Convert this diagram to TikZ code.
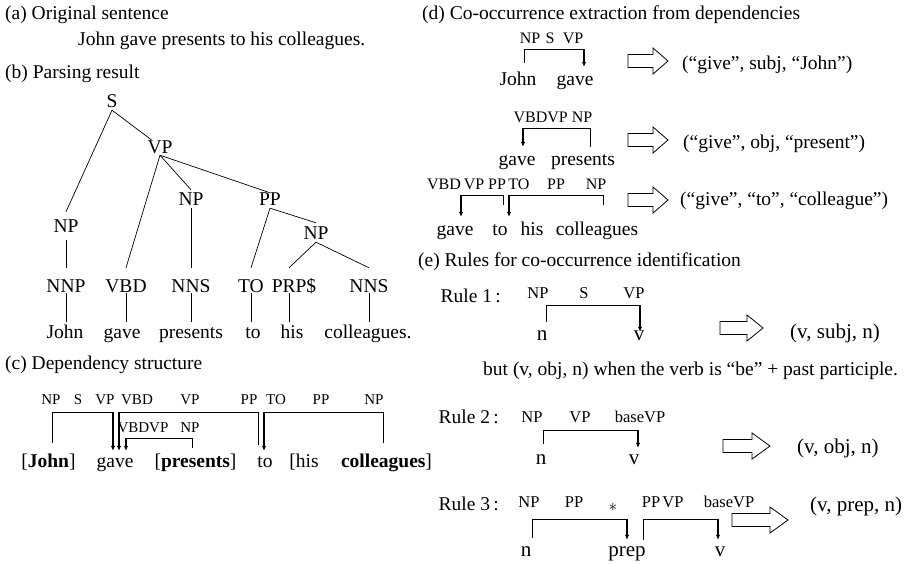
\documentclass[tikz,border=0pt]{standalone}
\usepackage{fontspec}
\setmainfont{Liberation Serif}
\usetikzlibrary{arrows.meta,calc}
\newcommand\fntmain{\fontsize{19.5}{23}\selectfont}
\newcommand\fntlab{\fontsize{15}{18}\selectfont}
\newcommand\fntlabd{\fontsize{16}{19}\selectfont}
\newcommand\fntlabe{\fontsize{16.5}{19}\selectfont}
\newcommand\fntbig{\fontsize{21}{25}\selectfont}
% #1 tail node, #2 tail x, #3 gap above tail node, #4 bracket y, #5 head node, #6 head x
\newcommand\depbr[6]{%
  \draw[dep, shorten <=#3pt] (#1.north -| #2,0) |- (#6,#4);
  \draw[deparr] (#6,#4) -- (#5.north -| #6,0);}
\tikzset{
  pics/harrow/.style 2 args={code={
    \draw[line width=0.8pt] (0,-6.5) -- (#1,-6.5) -- (#1,-13) -- (#1+#2,0)
      -- (#1,13) -- (#1,6.5) -- (0,6.5) -- cycle;}},
  tx/.style={font=\fntmain, anchor=base west, inner sep=0pt},
  tn/.style={font=\fntmain, anchor=base, inner sep=0pt},
  lc/.style={font=\fntlab, anchor=base, inner sep=0pt},
  ld/.style={font=\fntlabd, anchor=base, inner sep=0pt},
  le/.style={font=\fntlabe, anchor=base, inner sep=0pt},
  wb/.style={font=\fntbig, anchor=base, inner sep=0pt},
  rulelab/.style={font=\fntmain, anchor=base east, inner sep=0pt},
  treeline/.style={line width=0.7pt},
  dep/.style={line width=0.8pt},
  deparr/.style={line width=1.4pt, -{Latex[length=5pt,width=4.5pt]}},
}
\begin{document}
\begin{tikzpicture}[x=1pt,y=-1pt]
\fill[white] (0,0) rectangle (916,563);
\useasboundingbox (0,0) rectangle (916,563);

% ---------- (a) ----------
\node[tx] (ta) at (5,19) {(a) Original sentence};
\node[tx] (sent) at (78,45) {John gave presents to his colleagues.};

% ---------- (b) ----------
\node[tx] (tb) at (5,78) {(b) Parsing result};
\node[tn, text height=10pt, text depth=3pt] (S) at (112,107) {S};
\node[tn, text height=13pt, text depth=2pt] (VP) at (160,153) {VP};
\node[tn, text height=15pt, text depth=3pt] (NPo) at (191,205) {NP};
\node[tn, text height=12pt, text depth=3pt] (PP) at (270,205) {PP};
\node[tn, text height=20pt, text depth=8pt] (NPs) at (66,232) {NP};
\node[tn, text height=16pt, text depth=3pt] (NPp) at (316,239) {NP};

\node[tn, text height=24pt, text depth=1pt] (pNNP) at (66,292) {NNP};
\node[tn, text height=24pt, text depth=1pt] (pVBD) at (126,292) {VBD};
\node[tn, text height=24pt, text depth=1pt] (pNNSa) at (191,292) {NNS};
\node[tn, text height=24pt, text depth=1pt] (pTO) at (251,292) {TO};
\node[tn, text height=24pt, text depth=1pt] (pPRP) at (294,292) {PRP\$};
\node[tn, text height=24pt, text depth=1pt] (pNNSb) at (369,292) {NNS};

\node[tn, text height=16pt, text depth=0pt] (wJohn) at (65,338) {John};
\node[tn, text height=16pt, text depth=0pt] (wGave) at (122,338) {gave};
\node[tn, text height=16pt, text depth=0pt] (wPres) at (191,338) {presents};
\node[tn, text height=16pt, text depth=0pt] (wTo) at (253,338) {to};
\node[tn, text height=16pt, text depth=0pt] (wHis) at (292,338) {his};
\node[tn, text height=16pt, text depth=0pt] (wColl) at (368,338) {colleagues.};

\draw[treeline] (S.south) -- (NPs.north);
\draw[treeline] (S.south) -- ([xshift=4pt]VP.north west);
\draw[treeline] (VP.south) -- (pVBD.north);
\draw[treeline] (VP.south) -- (NPo.north);
\draw[treeline] (VP.south) -- (PP.north);
\draw[treeline] (NPo.south) -- (pNNSa.north);
\draw[treeline] (PP.south) -- (pTO.north);
\draw[treeline] (PP.south) -- (NPp.north);
\coordinate (prpT) at ([xshift=-5pt]pPRP.north);
\coordinate (prpB) at ([xshift=-5pt]pPRP.south);
\draw[treeline] (NPp.south) -- (prpT);
\draw[treeline] (NPp.south) -- (pNNSb.north);
\draw[treeline] (NPs.south) -- (pNNP.north);
\draw[treeline] (pNNP.south) -- (pNNP.south |- wJohn.north);
\draw[treeline] (pVBD.south) -- (pVBD.south |- wGave.north);
\draw[treeline] (pNNSa.south) -- (pNNSa.south |- wPres.north);
\draw[treeline] (pTO.south) -- (pTO.south |- wTo.north);
\draw[treeline] (prpB) -- (prpB |- wHis.north);
\draw[treeline] (pNNSb.south) -- (pNNSb.south |- wColl.north);

% ---------- (c) ----------
\node[tx] (tc) at (5,369) {(c) Dependency structure};
\node[lc] at (51,404) {NP};
\node[lc] at (78,404) {S};
\node[lc] at (105,404) {VP};
\node[lc] at (137,404) {VBD};
\node[lc] at (190,404) {VP};
\node[lc] at (249,404) {PP};
\node[lc] at (276,404) {TO};
\node[lc] at (321,404) {PP};
\node[lc] at (374,404) {NP};
\node[lc] at (143,432) {VBDVP};
\node[lc] at (190,432) {NP};

\node[tn, text height=16pt] (cJohn) at (48.5,467) {[\textbf{John}]};
\node[tn, text height=16pt] (cGave) at (115,467) {gave};
\node[tn, text height=16pt] (cPres) at (195.5,467) {[\textbf{presents}]};
\node[tn, text height=16pt] (cTo) at (265,467) {to};
\node[tn, text height=16pt] (cHis) at (304,467) {[his};
\node[tn, text height=16pt] (cColl) at (386.5,467) {\textbf{colleagues}]};

\depbr{cJohn}{52}{8}{412}{cGave}{113}
\depbr{cTo}{258}{6}{412}{cGave}{119}
\depbr{cColl}{383}{8}{412}{cTo}{264}
\depbr{cPres}{192}{3}{438}{cGave}{126}

% ---------- (d) ----------
\node[tx] (td) at (422,19) {(d) Co-occurrence extraction from dependencies};
% row 1
\node[ld] at (530,43) {NP};
\node[ld] at (550,43) {S};
\node[ld] at (573,43) {VP};
\node[tn, text height=18pt] (d1John) at (518,85) {John};
\node[tn, text height=18pt] (d1Gave) at (575,85) {gave};
\depbr{d1John}{524}{4}{49}{d1Gave}{584}
\pic at (628,61) {harrow={25}{15}};
\node[tx] (d1r) at (682,69) {(“give”, subj, “John”)};
% row 2
\node[ld] at (553,122) {VBDVP NP};
\node[tn, text height=18pt] (d2Gave) at (517,165) {gave};
\node[tn, text height=18pt] (d2Pres) at (583,165) {presents};
\depbr{d2Pres}{590}{0}{128}{d2Gave}{523}
\pic at (628,140) {harrow={25}{15}};
\node[tx] (d2r) at (683,148) {(“give”, obj, “present”)};
% row 3
\node[ld] at (444,189) {VBD};
\node[ld] at (474,189) {VP};
\node[ld] at (497,189) {PP};
\node[ld] at (519,189) {TO};
\node[ld] at (556,189) {PP};
\node[ld] at (596,189) {NP};
\node[tn, text height=18pt] (d3Gave) at (455,235) {gave};
\node[tn, text height=18pt] (d3To) at (500,235) {to};
\node[tn, text height=18pt] (d3His) at (532,235) {his};
\node[tn, text height=18pt] (d3Coll) at (597,235) {colleagues};
\depbr{d3To}{503}{12}{195}{d3Gave}{461}
\depbr{d3Coll}{603}{12}{195}{d3To}{509}
\pic at (628,200) {harrow={25}{15}};
\node[tx] (d3r) at (680,205) {(“give”, “to”, “colleague”)};

% ---------- (e) ----------
\node[tx] (te) at (418,266) {(e) Rules for co-occurrence identification};
% rule 1
\node[rulelab] (r1) at (501,302) {Rule 1\,:};
\node[le] at (538,298) {NP};
\node[le] at (584,298) {S};
\node[le] at (634,298) {VP};
\node[wb, text height=8pt] (r1n) at (542,340) {n};
\node[wb, text height=8pt] (r1v) at (639,340) {v};
\depbr{r1n}{546}{10}{305}{r1v}{640}
\pic at (720,328) {harrow={27}{16}};
\node[tx, font=\fntbig] (r1r) at (790,338) {(v, subj, n)};
\node[tx] (but) at (483,375) {but (v, obj, n) when the verb is “be” + past participle.};
% rule 2
\node[rulelab] (r2) at (499,423) {Rule 2\,:};
\node[le] at (532,422) {NP};
\node[le] at (580,422) {VP};
\node[le] at (640,422) {baseVP};
\node[wb, text height=16pt] (r2n) at (541,464) {n};
\node[wb, text height=16pt] (r2v) at (634,464) {v};
\depbr{r2n}{543}{4}{430}{r2v}{638}
\pic at (723,446) {harrow={29}{18}};
\node[tx, font=\fntbig] (r2r) at (797,453) {(v, obj, n)};
% rule 3
\node[rulelab] (r3) at (499,510) {Rule 3\,:};
\node[le] at (529,507) {NP};
\node[le] at (574,507) {PP};
\node[le] at (613,511) {$*$};
\node[le] at (651,507) {PP};
\node[le] at (673,507) {VP};
\node[le] at (729,507) {baseVP};
\node[wb, text height=16pt] (r3n) at (526,556) {n};
\node[wb, text height=16pt] (r3p) at (627,556) {prep};
\node[wb, text height=16pt] (r3v) at (720,556) {v};
\depbr{r3n}{532}{2}{519}{r3p}{627}
\depbr{r3p}{643}{0}{519}{r3v}{718}
\pic at (732,520) {harrow={38}{18}};
\node[tx, font=\fntbig] (r3r) at (810,511) {(v, prep, n)};
\end{tikzpicture}
\end{document}
